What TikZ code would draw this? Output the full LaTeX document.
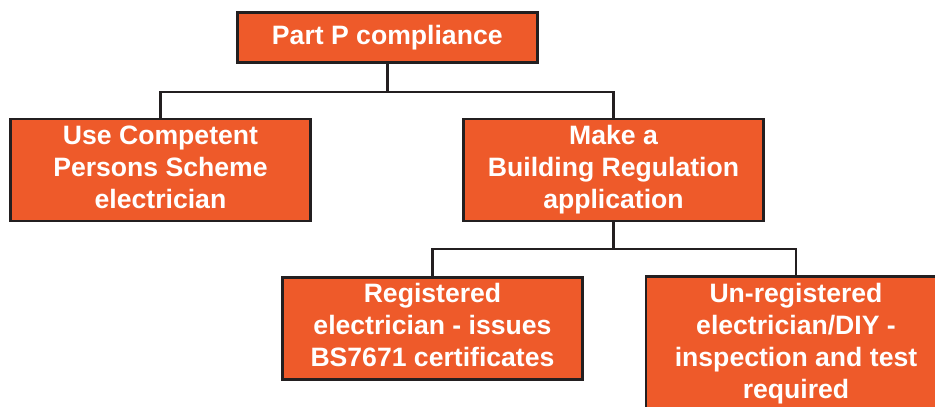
\documentclass[tikz,border=0pt]{standalone}
\usepackage{fontspec}
\setmainfont{Liberation Sans}
\definecolor{boxfill}{HTML}{EE5A2A}
\definecolor{lineblk}{HTML}{231F20}
\tikzset{
  pbox/.style={draw=lineblk, fill=boxfill, line width=2.6pt, inner sep=0pt,
    minimum width=300pt, text=white, align=center,
    font=\fontsize{26.6}{31.8}\selectfont\bfseries},
  conn/.style={draw=lineblk, line width=2.4pt}
}
\begin{document}
\begin{tikzpicture}[x=1pt,y=-1pt]
\useasboundingbox (0,0) rectangle (935,407);
\node[pbox, minimum height=50pt] (top) at (387.3,37.7) {\strut Part P compliance\strut};
\node[pbox, minimum height=102pt] (cps) at (160.5,170) {\strut Use Competent\\Persons Scheme\\electrician\strut};
\node[pbox, minimum height=102pt] (bra) at (613.5,170) {\strut Make a\\Building Regulation\\application\strut};
\node[pbox, minimum height=102pt] (reg) at (432.5,328.3) {\strut Registered\\electrician - issues\\BS7671 certificates\strut};
\node[pbox, minimum height=144pt] (unreg) at (796,348.7) {\strut Un-registered\\electrician/DIY -\\inspection and test\\required\rule[-18.7pt]{0pt}{18.7pt}};
\coordinate (bus1) at (387.3,92);
\coordinate (bus2) at (613.5,249);
\draw[conn] (top.south) -- (bus1) -| (cps.north);
\draw[conn] (bus1) -| (bra.north);
\draw[conn] (bra.south) -- (bus2) -| (reg.north);
\draw[conn] (bus2) -| (unreg.north);
\end{tikzpicture}
\end{document}
